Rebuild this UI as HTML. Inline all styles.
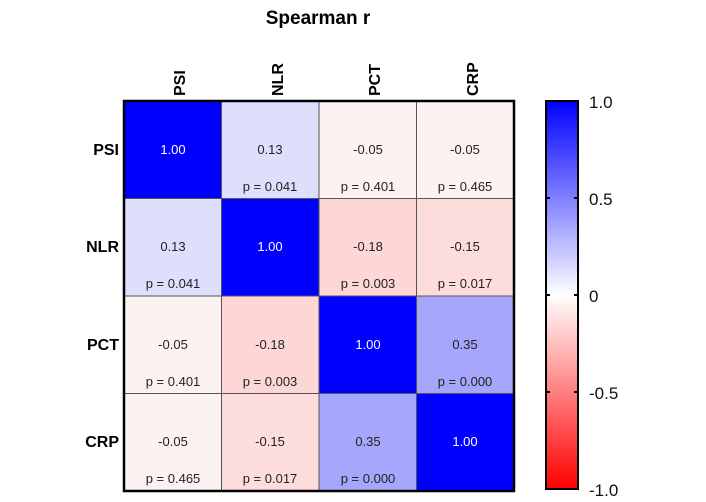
<!DOCTYPE html>
<html><head><style>body{margin:0;background:#fff}</style></head><body>
<svg width="706" height="497" xmlns="http://www.w3.org/2000/svg" font-family="Liberation Sans, Arial, sans-serif">
<defs><linearGradient id="g" x1="0" y1="0" x2="0" y2="1">
<stop offset="0" stop-color="#0000ff"/><stop offset="0.5" stop-color="#ffffff"/><stop offset="1" stop-color="#ff0000"/></linearGradient></defs>
<text x="318" y="24" font-size="19" font-weight="bold" text-anchor="middle">Spearman r</text>
<g font-size="16" font-weight="bold">
<text transform="translate(185,96) rotate(-90)">PSI</text>
<text transform="translate(283,96) rotate(-90)">NLR</text>
<text transform="translate(380,96) rotate(-90)">PCT</text>
<text transform="translate(478,96) rotate(-90)">CRP</text>
<g text-anchor="end">
<text x="119" y="155">PSI</text><text x="119" y="252">NLR</text><text x="119" y="350">PCT</text><text x="119" y="447">CRP</text></g></g>
<g stroke="#555" stroke-width="1">
<rect x="124" y="101" width="97.5" height="97.5" fill="#0000ff"/>
<rect x="221.5" y="101" width="97.5" height="97.5" fill="#dedefd"/>
<rect x="319" y="101" width="97.5" height="97.5" fill="#fdf2f2"/>
<rect x="416.5" y="101" width="97.5" height="97.5" fill="#fdf2f2"/>
<rect x="124" y="198.5" width="97.5" height="97.5" fill="#dedefd"/>
<rect x="221.5" y="198.5" width="97.5" height="97.5" fill="#0000ff"/>
<rect x="319" y="198.5" width="97.5" height="97.5" fill="#fdd6d6"/>
<rect x="416.5" y="198.5" width="97.5" height="97.5" fill="#fddcdc"/>
<rect x="124" y="296" width="97.5" height="97.5" fill="#fdf2f2"/>
<rect x="221.5" y="296" width="97.5" height="97.5" fill="#fdd6d6"/>
<rect x="319" y="296" width="97.5" height="97.5" fill="#0000ff"/>
<rect x="416.5" y="296" width="97.5" height="97.5" fill="#a6a6fc"/>
<rect x="124" y="393.5" width="97.5" height="97.5" fill="#fdf2f2"/>
<rect x="221.5" y="393.5" width="97.5" height="97.5" fill="#fddcdc"/>
<rect x="319" y="393.5" width="97.5" height="97.5" fill="#a6a6fc"/>
<rect x="416.5" y="393.5" width="97.5" height="97.5" fill="#0000ff"/>
</g>
<rect x="124" y="101" width="390" height="390" fill="none" stroke="#000" stroke-width="2.5"/>
<g font-size="13" text-anchor="middle" fill="#222">
<text x="173" y="154" fill="#fff">1.00</text><text x="270" y="154">0.13</text><text x="368" y="154">-0.05</text><text x="465" y="154">-0.05</text>
<text x="270" y="191">p = 0.041</text><text x="368" y="191">p = 0.401</text><text x="465" y="191">p = 0.465</text>
<text x="173" y="251">0.13</text><text x="270" y="251" fill="#fff">1.00</text><text x="368" y="251">-0.18</text><text x="465" y="251">-0.15</text>
<text x="173" y="288">p = 0.041</text><text x="368" y="288">p = 0.003</text><text x="465" y="288">p = 0.017</text>
<text x="173" y="349">-0.05</text><text x="270" y="349">-0.18</text><text x="368" y="349" fill="#fff">1.00</text><text x="465" y="349">0.35</text>
<text x="173" y="386">p = 0.401</text><text x="270" y="386">p = 0.003</text><text x="465" y="386">p = 0.000</text>
<text x="173" y="446">-0.05</text><text x="270" y="446">-0.15</text><text x="368" y="446">0.35</text><text x="465" y="446" fill="#fff">1.00</text>
<text x="173" y="483">p = 0.465</text><text x="270" y="483">p = 0.017</text><text x="368" y="483">p = 0.000</text>
</g>
<rect x="546" y="101" width="32" height="388" fill="url(#g)" stroke="#000" stroke-width="2"/>
<g stroke="#000" stroke-width="2">
<line x1="545" y1="198" x2="550" y2="198"/><line x1="574" y1="198" x2="579" y2="198"/>
<line x1="545" y1="295" x2="550" y2="295"/><line x1="574" y1="295" x2="579" y2="295"/>
<line x1="545" y1="392" x2="550" y2="392"/><line x1="574" y1="392" x2="579" y2="392"/>
</g>
<g font-size="17" fill="#111">
<text x="589" y="108">1.0</text><text x="589" y="205">0.5</text><text x="589" y="302">0</text><text x="589" y="399">-0.5</text><text x="589" y="496">-1.0</text>
</g>
</svg>
</body></html>
